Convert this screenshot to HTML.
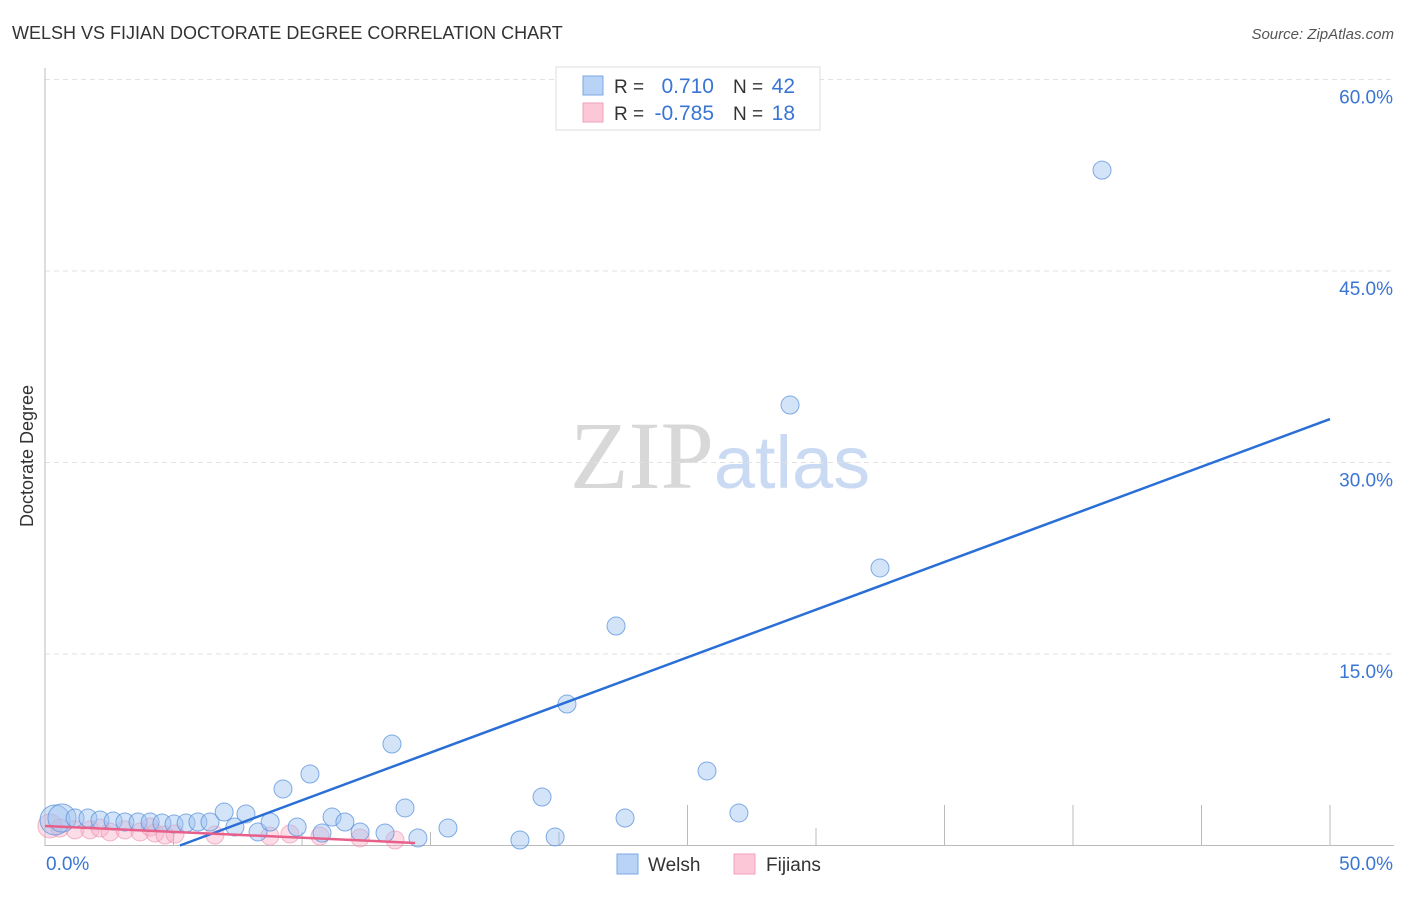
<!DOCTYPE html>
<html><head><meta charset="utf-8"><style>
body{margin:0;background:#fff;font-family:"Liberation Sans",sans-serif;}
svg text{font-family:"Liberation Sans",sans-serif;}
</style></head><body>
<svg id="chart" width="1406" height="892" xmlns="http://www.w3.org/2000/svg">
<text x="12" y="39" font-size="18" fill="#333">WELSH VS FIJIAN DOCTORATE DEGREE CORRELATION CHART</text>
<text x="1394" y="39" font-size="15" fill="#555" text-anchor="end" font-style="italic">Source: ZipAtlas.com</text>
<text x="720" y="488" font-size="96" text-anchor="middle" style="font-family:'Liberation Serif',serif" fill="#ddd"><tspan fill="#d8d8d8">ZIP</tspan><tspan style="font-family:'Liberation Sans',sans-serif" fill="#c9daf2" font-size="74">atlas</tspan></text>
<g id="grid"></g>
<g id="axes"></g>
<g id="pts"></g>
<g id="lines"></g>
<text transform="translate(33,456) rotate(-90)" font-size="18" fill="#333" text-anchor="middle">Doctorate Degree</text>
<g>
<rect x="556" y="67" width="264" height="63" fill="#fff" stroke="#ddd"/>
<rect x="583" y="76" width="20" height="19" fill="#b8d3f5" stroke="#7aa8e6"/>
<rect x="583" y="103" width="20" height="19" fill="#fcc8d7" stroke="#f0a0b8"/>
<text x="614" y="93" font-size="19" fill="#333">R =</text><text x="714" y="93" font-size="21" fill="#3a75d3" text-anchor="end">0.710</text>
<text x="733" y="93" font-size="19" fill="#333">N =</text><text x="795" y="93" font-size="21" fill="#3a75d3" text-anchor="end">42</text>
<text x="614" y="120" font-size="19" fill="#333">R =</text><text x="714" y="120" font-size="21" fill="#3a75d3" text-anchor="end">-0.785</text>
<text x="733" y="120" font-size="19" fill="#333">N =</text><text x="795" y="120" font-size="21" fill="#3a75d3" text-anchor="end">18</text>
</g>
<g>
<rect x="617" y="854" width="21" height="20" fill="#b8d3f5" stroke="#7aa8e6"/>
<text x="648" y="871" font-size="19" fill="#333">Welsh</text>
<rect x="734" y="854" width="21" height="20" fill="#fcc8d7" stroke="#f0a0b8"/>
<text x="766" y="871" font-size="19" fill="#333">Fijians</text>
</g>
</svg>
<script>
const welshX=[0.39,0.66,1.17,1.67,2.14,2.65,3.11,3.62,4.09,4.55,5.02,5.49,5.95,6.42,6.97,7.39,7.82,8.29,8.76,9.26,9.81,10.31,10.78,11.17,11.67,12.26,13.23,13.5,14.01,14.51,15.68,18.48,19.34,19.85,20.31,22.22,22.57,25.76,27.0,28.99,32.49,41.13];
const welshY=[2.0,2.15,2.15,2.15,2.0,1.92,1.84,1.84,1.84,1.76,1.68,1.76,1.84,1.84,2.62,1.45,2.47,1.06,1.84,4.43,1.45,5.6,0.98,2.23,1.84,1.06,0.98,7.95,2.94,0.59,1.37,0.43,3.8,0.67,11.08,17.19,2.15,5.84,2.55,34.5,21.74,52.9];
const fijiX=[0.19,0.58,1.17,1.75,2.14,2.53,3.11,3.70,4.09,4.28,4.67,5.06,6.61,8.75,9.53,10.70,12.26,13.62];
const fijiY=[1.53,1.37,1.22,1.22,1.37,1.06,1.22,1.06,1.45,0.98,0.82,0.9,0.82,0.74,0.9,0.74,0.59,0.43];
const welshTrend=[[5.25,0],[50,33.4]];
const fijiTrend=[[0,1.53],[14.4,0.2]];
const yTicks=[15,30,45,60];
const xTickLabels=["0.0%","50.0%"];
const NS="http://www.w3.org/2000/svg";
const sx=v=>45+v/50*1285, sy=v=>845.5-v/15*191.5;
function mk(t,a,p){const e=document.createElementNS(NS,t);for(const k in a)e.setAttribute(k,a[k]);p.appendChild(e);return e;}
const grid=document.getElementById('grid'),axes=document.getElementById('axes'),pts=document.getElementById('pts'),lines=document.getElementById('lines');
yTicks.forEach(v=>{
 const l=mk('line',{x1:45,x2:1394,y1:sy(v),y2:sy(v),stroke:'#e2e2e2','stroke-dasharray':'5,4'},grid);
 
 
 const t=mk('text',{x:1393,y:sy(v)+24,'font-size':19,fill:'#3a75d3','text-anchor':'end'},grid);
 t.textContent=v.toFixed(1)+'%';
 
 
});
mk('line',{x1:45,x2:45,y1:68,y2:846,stroke:'#bbb'},axes);
mk('line',{x1:45,x2:1394,y1:845.5,y2:845.5,stroke:'#bbb'},axes);
for(let i=1;i<=10;i++){const x=sx(i*5);const top=(i<=4)?832:(i==6?828:805);
 const tk=mk('line',{x1:x,x2:x,y1:top,y2:845,stroke:'#bbb'},axes);
 
 }
const xl0=mk('text',{x:46,y:870,'font-size':19,fill:'#3a75d3'},axes);xl0.textContent=xTickLabels[0];


const xl1=mk('text',{x:1393,y:870,'font-size':19,fill:'#3a75d3','text-anchor':'end'},axes);xl1.textContent=xTickLabels[1];


fijiX.forEach((x,i)=>{const c=mk('circle',{cx:sx(x),cy:sy(fijiY[i]),r:i<1?12:9,fill:'rgba(247,170,195,0.4)',stroke:'rgba(235,140,170,0.6)'},pts);
 
 });
welshX.forEach((x,i)=>{const c=mk('circle',{cx:sx(x),cy:sy(welshY[i]),r:i==0?15:(i==1?14:9),fill:'rgba(160,195,240,0.45)',stroke:'rgba(90,145,220,0.75)'},pts);
 
 });
const lw=mk('line',{x1:sx(welshTrend[0][0]),y1:sy(welshTrend[0][1]),x2:sx(welshTrend[1][0]),y2:sy(welshTrend[1][1]),stroke:'#2a6fd6','stroke-width':2.5},lines);


const lf=mk('line',{x1:sx(fijiTrend[0][0]),y1:sy(fijiTrend[0][1]),x2:sx(fijiTrend[1][0]),y2:sy(fijiTrend[1][1]),stroke:'#e8608a','stroke-width':2.5},lines);


</script>
</body></html>
